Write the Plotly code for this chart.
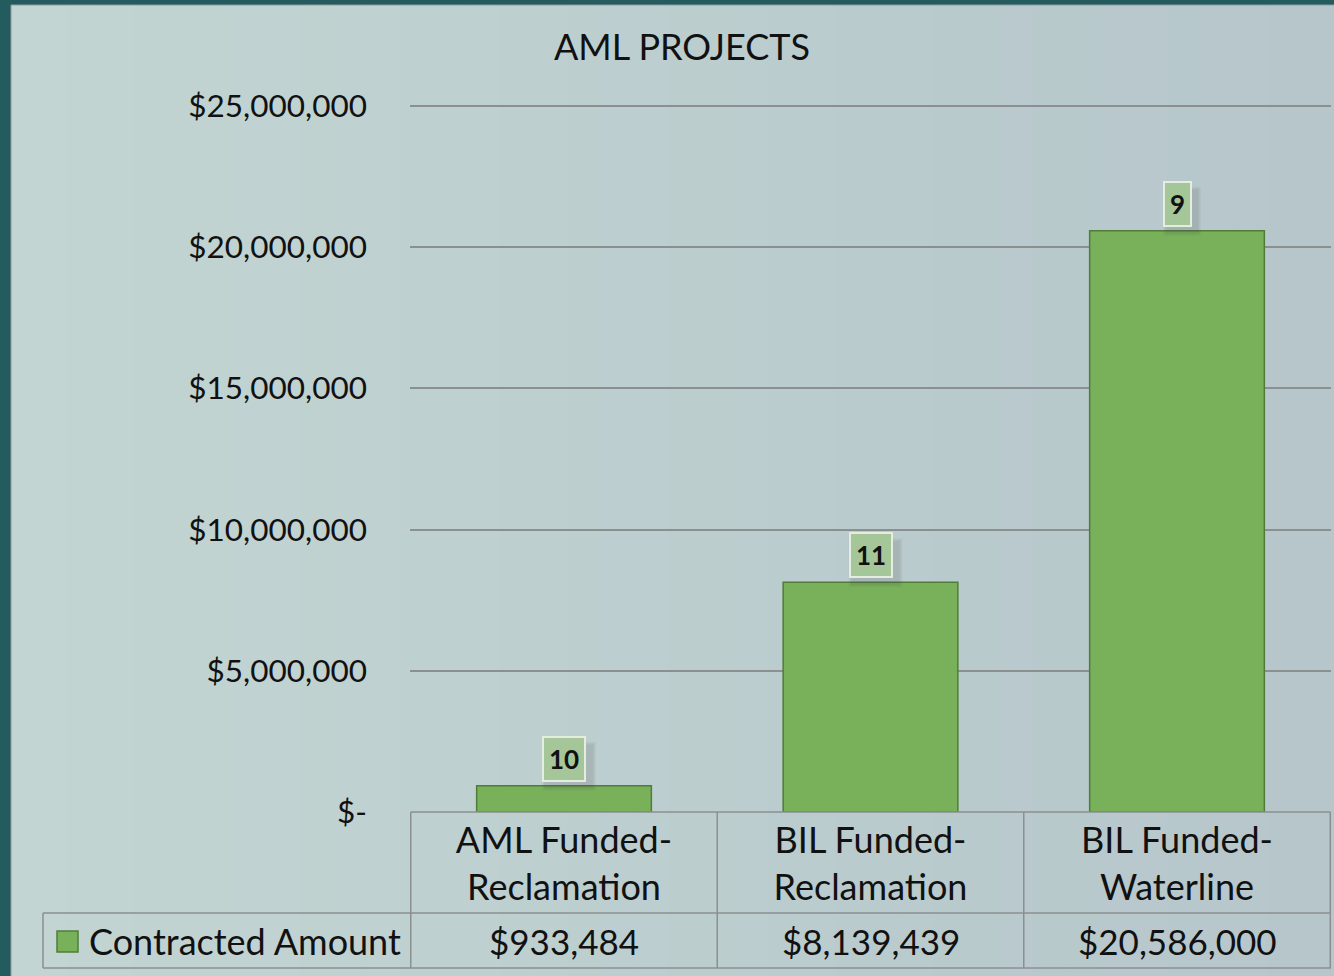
import plotly.graph_objects as go

# ---------------- data ----------------
categories = ["AML Funded-Reclamation", "BIL Funded-Reclamation", "BIL Funded-Waterline"]
tick_labels = ["AML Funded-<br>Reclamation", "BIL Funded-<br>Reclamation", "BIL Funded-<br>Waterline"]
contracted_amount = [933484, 8139439, 20586000]
project_counts = [10, 11, 9]
series_name = "Contracted Amount"
y_tick_values = [0, 5000000, 10000000, 15000000, 20000000, 25000000]
y_tick_labels = ["$-", "$5,000,000", "$10,000,000", "$15,000,000", "$20,000,000", "$25,000,000"]
title_text = "AML PROJECTS"

# ---------------- geometry helpers ----------------
W, H = 1334, 976
ML, MR, MT, MB = 410, 3, 100, 164
PW, PH = W - ML - MR, H - MT - MB
Y_TOP = y_tick_values[-1] * (H - MB - MT) / (H - MB - 106)


def px_x(px):
    return (px - ML) / PW


def px_y(py):
    return (H - MB - py) / PH


FONT = "Lato"
BAR_COLOR = "#79b15a"
BAR_LINE = "#4f7d37"
GRID = "#8b8f8f"
TEAL = "#245b5f"

fig = go.Figure()
fig.add_trace(go.Bar(
    x=categories, y=contracted_amount, name=series_name,
    marker=dict(color=BAR_COLOR, line=dict(color=BAR_LINE, width=1.5)),
    showlegend=False,
))

shapes = []
# background gradient
n = 40
c0 = (194, 213, 210)
c1 = (182, 198, 203)
x_left, x_right = px_x(0), px_x(W)
for i in range(n):
    t = i / (n - 1)
    col = tuple(round(a + (b - a) * t) for a, b in zip(c0, c1))
    xa = x_left + (x_right - x_left) * i / n
    xb = x_left + (x_right - x_left) * (i + 1) / n + 0.002
    shapes.append(dict(type="rect", xref="paper", yref="paper", x0=xa, x1=xb,
                       y0=px_y(H), y1=px_y(0), fillcolor="rgb(%d,%d,%d)" % col,
                       line=dict(width=0), layer="below"))
# teal frame (left and top)
shapes.append(dict(type="rect", xref="paper", yref="paper", x0=px_x(0), x1=px_x(11),
                   y0=px_y(H), y1=px_y(0), fillcolor=TEAL, line=dict(width=0), layer="below"))
shapes.append(dict(type="rect", xref="paper", yref="paper", x0=px_x(0), x1=px_x(W),
                   y0=px_y(5), y1=px_y(0), fillcolor=TEAL, line=dict(width=0), layer="below"))
shapes.append(dict(type="line", xref="paper", yref="paper", x0=px_x(11), x1=px_x(11),
                   y0=px_y(H), y1=px_y(5), line=dict(color="#8e9d9d", width=1), layer="below"))
shapes.append(dict(type="line", xref="paper", yref="paper", x0=px_x(11), x1=px_x(W),
                   y0=px_y(5), y1=px_y(5), line=dict(color="#8e9d9d", width=1), layer="below"))

# data table grid
ncat = len(categories)
row_mid = px_y(913)
row_bot = px_y(968)
line_style = dict(color=GRID, width=1.5)
for i in range(ncat + 1):
    shapes.append(dict(type="line", xref="x", yref="paper", x0=i - 0.5, x1=i - 0.5,
                       y0=row_bot, y1=0, line=line_style))
shapes.append(dict(type="line", xref="x", yref="paper", x0=-0.5, x1=ncat - 0.5,
                   y0=0, y1=0, line=line_style))
shapes.append(dict(type="line", xref="paper", yref="paper", x0=px_x(43), x1=1,
                   y0=row_mid, y1=row_mid, line=line_style))
shapes.append(dict(type="line", xref="paper", yref="paper", x0=px_x(43), x1=1,
                   y0=row_bot, y1=row_bot, line=line_style))
shapes.append(dict(type="line", xref="paper", yref="paper", x0=px_x(43), x1=px_x(43),
                   y0=row_bot, y1=row_mid, line=line_style))
# legend key square
shapes.append(dict(type="rect", xref="paper", yref="paper", x0=px_x(57), x1=px_x(78),
                   y0=px_y(952), y1=px_y(931), fillcolor=BAR_COLOR,
                   line=dict(color=BAR_LINE, width=1.5)))

# soft, blurred-looking shadows behind the data-label boxes
for i, v in enumerate(contracted_amount):
    half = 23 if project_counts[i] >= 10 else 15
    for k in range(4):
        g = 4 - k
        shapes.append(dict(type="rect", xref="x", yref="y",
                           xsizemode="pixel", xanchor=i, x0=-half + 5 - g, x1=half + 5 + g,
                           ysizemode="pixel", yanchor=v, y0=-1 - g, y1=44 + g - 4,
                           fillcolor="rgba(60,80,70,0.045)", line=dict(width=0)))

annotations = []
# legend text
annotations.append(dict(xref="paper", yref="paper", x=px_x(87), y=px_y(941),
                        text=series_name, showarrow=False, xanchor="left", yanchor="middle",
                        font=dict(family=FONT, size=36, color="#111111")))
# value row
for cat, v in zip(categories, contracted_amount):
    annotations.append(dict(xref="x", yref="paper", x=cat, y=px_y(941),
                            text=f"${v:,.0f}", showarrow=False, yanchor="middle",
                            font=dict(family=FONT, size=35, color="#111111")))
# data labels (project counts)
for cat, v, c in zip(categories, contracted_amount, project_counts):
    annotations.append(dict(xref="x", yref="y", x=cat, y=v, text=f"<b>{c}</b>",
                            showarrow=False, yanchor="bottom", yshift=4,
                            bgcolor="#a5c699", bordercolor="#e4eddf", borderwidth=2,
                            borderpad=5,
                            font=dict(family=FONT, size=26, color="#111111")))

fig.update_layout(
    width=W, height=H,
    margin=dict(l=ML, r=MR, t=MT, b=MB, pad=0),
    paper_bgcolor="rgb(190,207,206)",
    plot_bgcolor="rgba(0,0,0,0)",
    title=dict(text=title_text, x=682 / W, xref="container", xanchor="center",
               y=1 - 47 / H, yref="container", yanchor="middle",
               font=dict(family=FONT, size=36, color="#111111")),
    bargap=0.43,
    shapes=shapes,
    annotations=annotations,
    xaxis=dict(tickmode="array", tickvals=categories, ticktext=tick_labels,
               showgrid=False, showline=False, zeroline=False, ticks="",
               ticklabelstandoff=4,
               tickfont=dict(family=FONT, size=36, color="#111111")),
    yaxis=dict(range=[0, Y_TOP], tickmode="array", tickvals=y_tick_values,
               ticktext=y_tick_labels, showgrid=True, gridcolor=GRID, gridwidth=1.5,
               zeroline=False, showline=False, ticks="", ticklabelstandoff=42,
               tickfont=dict(family=FONT, size=31.5, color="#111111")),
    font=dict(family=FONT),
)

fig.write_html("out.html", config={"displayModeBar": False},
               post_script="document.body.style.margin='0';document.body.style.overflow='hidden';")
